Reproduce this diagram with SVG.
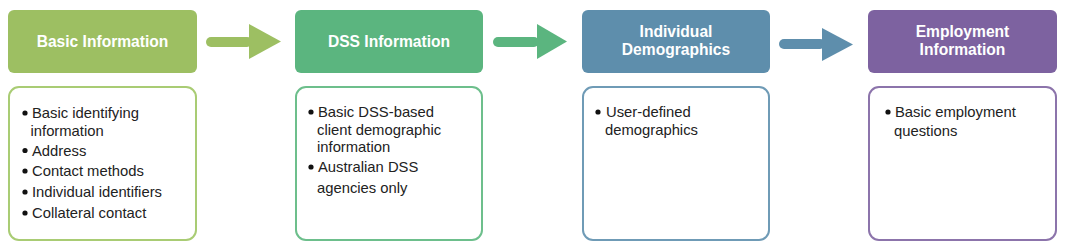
<svg xmlns="http://www.w3.org/2000/svg" width="1069" height="249" viewBox="0 0 1069 249">
<style>
.hd{font-family:"Liberation Sans",Arial,sans-serif;font-weight:bold;font-size:15.6px;fill:#ffffff;text-anchor:middle}
.bd{font-family:"Liberation Sans",Arial,sans-serif;font-size:14.8px;fill:#222222}
.body{fill:#ffffff;stroke-width:2}
</style>
<rect width="1069" height="249" fill="#ffffff"/>
<g id="connectors">
<g fill="#9dbf62" stroke="none"><rect x="206" y="37" width="46" height="10" rx="5"/><polygon points="249,24 281,41.5 249,59"/></g>
<g fill="#5bb57f" stroke="none"><rect x="493" y="37" width="46" height="10" rx="5"/><polygon points="537,24 567,41.5 537,59"/></g>
<g fill="#5e8eac" stroke="none"><rect x="779" y="39" width="46" height="10" rx="5"/><polygon points="822,28 853,44.5 822,61"/></g>
</g>
<g id="basic-info">
<rect x="8" y="10" width="189" height="63" rx="6" fill="#9dbf62"/>
<text class="hd" x="102.5" y="46.5">Basic Information</text>
<rect class="body" x="9" y="87" width="187" height="153" rx="10" stroke="#a9cc74"/>
<g class="bd">
<circle cx="25" cy="113" r="2.6" fill="#111"/>
<text x="32" y="118">Basic identifying</text>
<text x="30.5" y="136">information</text>
<circle cx="25" cy="150.5" r="2.6" fill="#111"/>
<text x="32" y="155.5">Address</text>
<circle cx="25" cy="171" r="2.6" fill="#111"/>
<text x="32" y="176">Contact methods</text>
<circle cx="25" cy="192" r="2.6" fill="#111"/>
<text x="32" y="197">Individual identifiers</text>
<circle cx="25" cy="213" r="2.6" fill="#111"/>
<text x="32" y="218">Collateral contact</text>
</g>
</g>
<g id="dss-info">
<rect x="295" y="10" width="188" height="63" rx="6" fill="#5bb57f"/>
<text class="hd" x="389" y="46.5">DSS Information</text>
<rect class="body" x="296" y="87" width="186" height="153" rx="10" stroke="#6dbf8c"/>
<g class="bd">
<circle cx="311" cy="112" r="2.6" fill="#111"/>
<text x="318" y="117">Basic DSS-based</text>
<text x="317" y="134.5">client demographic</text>
<text x="317" y="152">information</text>
<circle cx="311" cy="167" r="2.6" fill="#111"/>
<text x="318" y="172">Australian DSS</text>
<text x="317" y="193">agencies only</text>
</g>
</g>
<g id="individual-demographics">
<rect x="582" y="10" width="188" height="63" rx="6" fill="#5e8eac"/>
<text class="hd" x="676" y="37">Individual</text>
<text class="hd" x="676" y="55">Demographics</text>
<rect class="body" x="583" y="87" width="186" height="153" rx="10" stroke="#6f9bb6"/>
<g class="bd">
<circle cx="598" cy="112" r="2.6" fill="#111"/>
<text x="606" y="117">User-defined</text>
<text x="605" y="134.5">demographics</text>
</g>
</g>
<g id="employment-info">
<rect x="868" y="10" width="189" height="63" rx="6" fill="#7d62a0"/>
<text class="hd" x="962.5" y="37">Employment</text>
<text class="hd" x="962.5" y="55">Information</text>
<rect class="body" x="869" y="87" width="187" height="153" rx="10" stroke="#8c74ab"/>
<g class="bd">
<circle cx="888" cy="112" r="2.6" fill="#111"/>
<text x="895" y="117">Basic employment</text>
<text x="894" y="136">questions</text>
</g>
</g>
</svg>
